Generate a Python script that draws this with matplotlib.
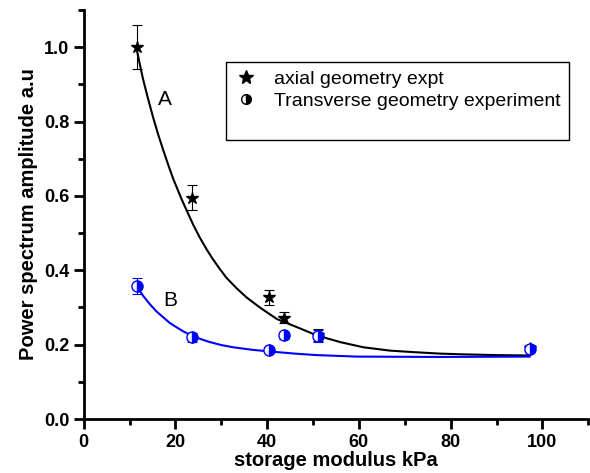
import matplotlib
matplotlib.use('Agg')
import matplotlib.pyplot as plt
from matplotlib.lines import Line2D
from matplotlib.ticker import MultipleLocator

plt.rcParams['font.family'] = ['Liberation Sans', 'DejaVu Sans']

# measured points
modulus = [11.5, 23.5, 40.4, 43.7, 51.1, 97.2]
axial = [1.0, 0.595, 0.327, 0.272, 0.226, 0.19]
axial_err = [0.06, 0.033, 0.02, 0.015, 0.015, 0.01]
transverse = [0.358, 0.220, 0.187, 0.225, 0.224, 0.189]
transverse_err = [0.022, 0.012, 0.008, 0.01, 0.016, 0.01]

# fitted curves
fit_a_x = [11.5, 12.2, 12.9, 14.0, 15.1, 16.2, 17.3, 18.4, 19.5, 20.2, 21.3,
           22.4, 23.8, 25.3, 26.8, 28.2, 29.7, 31.1, 33.3, 35.5, 38.4, 42.1,
           47.1, 50.8, 55.9, 61.0, 66.8, 71.9, 77.7, 82.8, 90.0, 97.2]
fit_a_y = [0.997, 0.955, 0.915, 0.862, 0.812, 0.766, 0.724, 0.684, 0.646,
           0.625, 0.592, 0.562, 0.524, 0.488, 0.456, 0.429, 0.403, 0.380,
           0.352, 0.327, 0.300, 0.269, 0.244, 0.225, 0.207, 0.193, 0.184,
           0.180, 0.176, 0.174, 0.172, 0.171]
fit_b_x = [11.5, 12.9, 14.4, 15.8, 17.3, 18.7, 20.2, 21.8, 23.5, 25.5, 27.5,
           30.0, 32.6, 36.9, 41.3, 46.0, 50.8, 59.5, 77.7, 97.2]
fit_b_y = [0.358, 0.332, 0.309, 0.290, 0.274, 0.259, 0.247, 0.235, 0.225,
           0.215, 0.207, 0.199, 0.193, 0.186, 0.181, 0.176, 0.172, 0.168,
           0.167, 0.168]

fig = plt.figure(figsize=(5.9, 4.73), dpi=100)
ax = fig.add_axes([0.142, 0.114, 0.855, 0.865])

ax.plot(fit_a_x, fit_a_y, color='black', lw=1.5, zorder=2)
ax.plot(fit_b_x, fit_b_y, color='blue', lw=1.5, zorder=2)

ax.errorbar(modulus, axial, yerr=axial_err, fmt='*', color='black',
            markersize=9, elinewidth=0.8, capsize=3.5, capthick=0.8, zorder=3)
ax.errorbar(modulus, transverse, yerr=transverse_err, fmt='o', color='blue',
            markersize=8, fillstyle='right', markerfacecoloralt='white',
            elinewidth=0.8, capsize=3.5, capthick=0.8, zorder=4)

ax.text(17.7, 0.86, 'A', fontsize=15, ha='center', va='center')
ax.text(18.8, 0.318, 'B', fontsize=15, ha='center', va='center')

handles = [
    Line2D([], [], ls='none', marker='*', color='black', markersize=10),
    Line2D([], [], ls='none', marker='o', color='black', markersize=7,
           fillstyle='right', markerfacecoloralt='white'),
    Line2D([], [], ls='none'),
]
leg = ax.legend(handles, ['axial geometry expt', 'Transverse geometry experiment', ''],
                loc='upper left', bbox_to_anchor=(0.282, 0.873), fontsize=14,
                frameon=True, fancybox=False, edgecolor='black', framealpha=1,
                handlelength=1.2, handletextpad=0.8, borderpad=0.45,
                borderaxespad=0, labelspacing=0.2)
leg.get_frame().set_linewidth(1.0)

ax.set_xlim(0, 110)
ax.set_ylim(0, 1.1)
ax.xaxis.set_major_locator(MultipleLocator(20))
ax.xaxis.set_minor_locator(MultipleLocator(10))
ax.yaxis.set_major_locator(MultipleLocator(0.2))
ax.yaxis.set_minor_locator(MultipleLocator(0.1))
ax.yaxis.set_major_formatter(plt.FormatStrFormatter('%.1f'))

for side in ['top', 'right']:
    ax.spines[side].set_visible(False)
for side in ['left', 'bottom']:
    ax.spines[side].set_linewidth(2)
ax.tick_params(which='major', direction='out', length=7, width=2, labelsize=13)
ax.tick_params(which='minor', direction='out', length=4, width=2)
for lab in ax.get_xticklabels() + ax.get_yticklabels():
    lab.set_fontweight('bold')

ax.set_xlabel('storage modulus kPa', fontsize=14.5, fontweight='bold', labelpad=0)
ax.set_ylabel('Power spectrum amplitude a.u', fontsize=14.5, fontweight='bold', labelpad=4)

fig.savefig('out.png', dpi=100)
